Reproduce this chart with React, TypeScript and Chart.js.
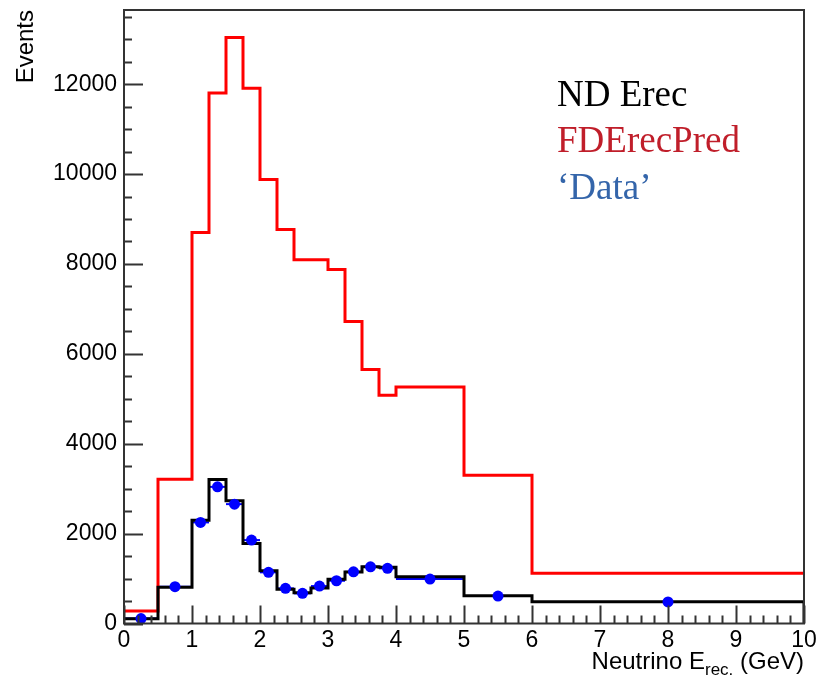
import React, { useEffect, useRef } from 'react';
import { Chart, registerables } from 'chart.js';

Chart.register(...registerables);

// Bin edges (GeV)
const binEdges = [0, 0.5, 1, 1.25, 1.5, 1.75, 2, 2.25, 2.5, 2.75, 3, 3.25, 3.5, 3.75, 4, 5, 6, 10];
// FDErecPred histogram contents per bin
const fdErecPred = [280, 3211, 8700, 11804, 13040, 11907, 9878, 8767, 8093, 8093, 7878, 6722, 5649, 5078, 5262, 3300, 1116];
// ND Erec histogram contents per bin
const ndErec = [105, 804, 2300, 3204, 2729, 1782, 1173, 760, 684, 789, 982, 1144, 1262, 1249, 1040, 618, 484];
// 'Data' points (bin centres and values)
const dataX = [0.25, 0.75, 1.125, 1.375, 1.625, 1.875, 2.125, 2.375, 2.625, 2.875, 3.125, 3.375, 3.625, 3.875, 4.5, 5.5, 8];
const dataY = [110, 818, 2249, 3040, 2656, 1856, 1138, 782, 671, 833, 951, 1151, 1262, 1227, 989, 611, 480];

// Tick labels
const xTickValues = [0, 1, 2, 3, 4, 5, 6, 7, 8, 9, 10];
const yTickValues = [0, 2000, 4000, 6000, 8000, 10000, 12000];

const legendLabels = ['ND Erec', 'FDErecPred', '\u2018Data\u2019'];
const legendColors = ['#000000', 'rgb(192,30,42)', 'rgb(52,101,170)'];

const X_MIN = 0;
const X_MAX = 10;
const Y_MIN = 0;
const Y_MAX = 13650;

function stepPoints(vals: number[], dropAtEnd: boolean) {
  const pts = binEdges.map((e, i) => ({ x: e, y: i < vals.length ? vals[i] : vals[vals.length - 1] }));
  if (dropAtEnd) pts.push({ x: binEdges[binEdges.length - 1], y: 0 });
  return pts;
}

const rootPlugin = {
  id: 'rootStyle',
  beforeDatasetsDraw(chart: any) {
    const ctx = chart.ctx;
    const xs = chart.scales.x;
    const ys = chart.scales.y;
    ctx.save();
    ctx.strokeStyle = '#0000ff';
    ctx.lineWidth = 2;
    dataX.forEach((_, i) => {
      const py = ys.getPixelForValue(dataY[i]);
      ctx.beginPath();
      ctx.moveTo(xs.getPixelForValue(binEdges[i]), py);
      ctx.lineTo(xs.getPixelForValue(binEdges[i + 1]), py);
      ctx.stroke();
    });
    ctx.restore();
  },
  afterDraw(chart: any) {
    const ctx = chart.ctx;
    const { left, right, top, bottom } = chart.chartArea;
    const xs = chart.scales.x;
    const ys = chart.scales.y;
    ctx.save();
    // frame
    ctx.strokeStyle = '#333';
    ctx.lineWidth = 2;
    ctx.strokeRect(left, top, right - left, bottom - top);
    // y ticks (inside)
    ctx.beginPath();
    for (let v = 0; v <= Y_MAX; v += 500) {
      const py = Math.round(ys.getPixelForValue(v)) + 0.5;
      const len = v % 2000 === 0 ? 19 : 8;
      ctx.moveTo(left, py);
      ctx.lineTo(left + len, py);
    }
    // x ticks (inside)
    for (let k = 0; k <= 50; k++) {
      const px = Math.round(xs.getPixelForValue(k / 5)) + 0.5;
      const len = k % 5 === 0 ? 18 : 8;
      ctx.moveTo(px, bottom);
      ctx.lineTo(px, bottom - len);
    }
    ctx.stroke();

    // y title
    ctx.fillStyle = '#000';
    ctx.font = '24px "Liberation Sans", Arial, sans-serif';
    ctx.save();
    ctx.translate(33, 10);
    ctx.rotate(-Math.PI / 2);
    ctx.textAlign = 'right';
    ctx.textBaseline = 'alphabetic';
    ctx.fillText('Events', 0, 0);
    ctx.restore();

    // x title with subscript
    const mainFont = '24px "Liberation Sans", Arial, sans-serif';
    const subFont = '17px "Liberation Sans", Arial, sans-serif';
    const p1 = 'Neutrino E';
    const p2 = 'rec.';
    const p3 = ' (GeV)';
    ctx.textAlign = 'left';
    ctx.textBaseline = 'alphabetic';
    ctx.font = mainFont;
    const w1 = ctx.measureText(p1).width;
    const w3 = ctx.measureText(p3).width;
    ctx.font = subFont;
    const w2 = ctx.measureText(p2).width;
    const baseY = 669;
    const x0 = right - (w1 + w2 + w3);
    ctx.font = mainFont;
    ctx.fillText(p1, x0, baseY);
    ctx.font = subFont;
    ctx.fillText(p2, x0 + w1, baseY + 6);
    ctx.font = mainFont;
    ctx.fillText(p3, x0 + w1 + w2, baseY);

    // legend text
    ctx.font = '37px "Liberation Serif", "Times New Roman", serif';
    const baselines = [106, 152, 199];
    legendLabels.forEach((t, i) => {
      ctx.fillStyle = legendColors[i];
      ctx.fillText(t, 557, baselines[i]);
    });
    ctx.restore();
  },
};

export default function App() {
  const canvasRef = useRef<HTMLCanvasElement | null>(null);

  useEffect(() => {
    const canvas = canvasRef.current;
    if (!canvas) return;
    const tickFont = { family: '"Liberation Sans", Arial, sans-serif', size: 23 };
    const chart = new Chart(canvas, {
      type: 'scatter',
      data: {
        datasets: [
          {
            label: "'Data'",
            type: 'scatter',
            data: dataX.map((x, i) => ({ x, y: dataY[i] })),
            pointRadius: 5.5,
            pointHoverRadius: 5.5,
            pointBackgroundColor: '#0000ff',
            pointBorderWidth: 0,
            backgroundColor: '#0000ff',
            borderColor: '#0000ff',
            showLine: false,
          } as any,
          {
            label: 'ND Erec',
            type: 'line',
            data: stepPoints(ndErec, true),
            stepped: 'before',
            borderColor: '#000000',
            borderWidth: 3,
            pointRadius: 0,
            fill: false,
          } as any,
          {
            label: 'FDErecPred',
            type: 'line',
            data: stepPoints(fdErecPred, false),
            stepped: 'before',
            borderColor: '#ff0000',
            borderWidth: 3,
            pointRadius: 0,
            fill: false,
          } as any,
        ],
      },
      options: {
        responsive: false,
        animation: false,
        devicePixelRatio: 1,
        layout: { padding: { top: 10, right: 16, left: 0, bottom: 0 } },
        plugins: {
          legend: { display: false },
          tooltip: { enabled: false },
        },
        scales: {
          x: {
            type: 'linear',
            min: X_MIN,
            max: X_MAX,
            grid: { display: false, drawTicks: false },
            border: { display: false },
            afterBuildTicks: (s: any) => {
              s.ticks = xTickValues.map((v) => ({ value: v }));
            },
            ticks: {
              maxRotation: 0,
              autoSkip: false,
              padding: 3,
              color: '#000',
              font: tickFont,
              callback: (v: any) => String(v),
            },
            afterFit: (s: any) => {
              s.height = 678 - 623.5;
              s.paddingLeft = 0;
              s.paddingRight = 0;
            },
          },
          y: {
            type: 'linear',
            min: Y_MIN,
            max: Y_MAX,
            grid: { display: false, drawTicks: false },
            border: { display: false },
            afterBuildTicks: (s: any) => {
              s.ticks = yTickValues.map((v) => ({ value: v }));
            },
            ticks: {
              autoSkip: false,
              padding: 7,
              color: '#000',
              font: tickFont,
              callback: (v: any) => String(v),
            },
            afterFit: (s: any) => {
              s.width = 124;
              s.paddingTop = 0;
              s.paddingBottom = 0;
            },
          },
        },
      },
      plugins: [rootPlugin],
    } as any);
    return () => chart.destroy();
  }, []);

  return (
    <div style={{ position: 'fixed', left: 0, top: 0, width: 820, height: 678, background: '#fff' }}>
      <canvas ref={canvasRef} width={820} height={678} style={{ width: 820, height: 678 }} />
    </div>
  );
}
